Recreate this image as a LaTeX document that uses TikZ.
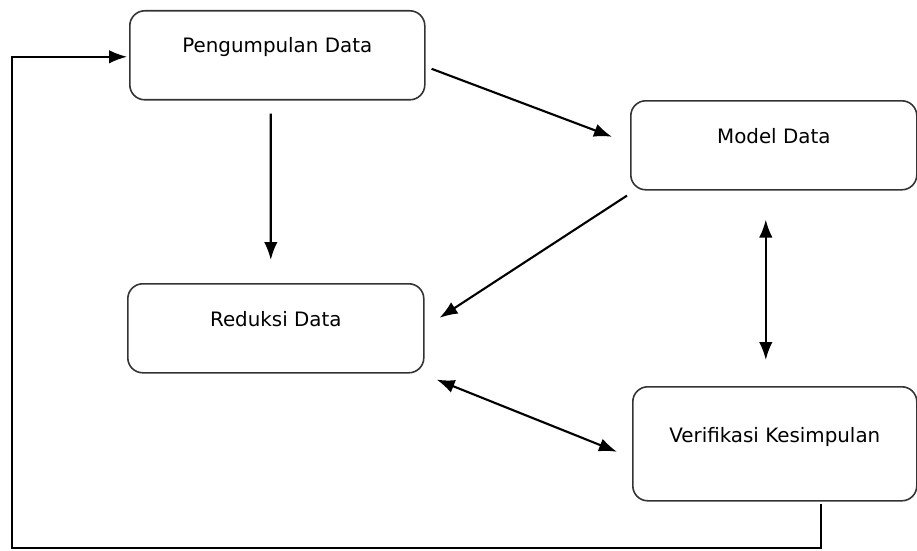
\documentclass[tikz,border=0pt]{standalone}
\usepackage{fontspec}
\setmainfont{DejaVu Sans}
\usetikzlibrary{arrows.meta}
\tikzset{
	tahap/.style={draw=black!80, line width=0.9pt, rounded corners=0.3cm, inner sep=0pt, anchor=north west, font=\fontsize{11.3}{13}\selectfont},
	arr/.style={draw=black, line width=1.2pt, -{Latex[length=0.36cm,width=0.27cm]}},
	darr/.style={draw=black, line width=1.2pt, {Latex[length=0.36cm,width=0.27cm]}-{Latex[length=0.36cm,width=0.27cm]}}
}
\begin{document}
\begin{tikzpicture}
		\useasboundingbox (0,0) rectangle (18.34,-11.00);
		\node[tahap, minimum width=5.90cm, minimum height=1.78cm, text height=0.84cm, text depth=0.94cm] (peng) at (2.58,-0.20) {Pengumpulan Data};
		\node[tahap, minimum width=5.72cm, minimum height=1.78cm, text height=0.86cm, text depth=0.92cm] (model) at (12.60,-2.00) {Model Data};
		\node[tahap, minimum width=5.92cm, minimum height=1.78cm, text height=0.86cm, text depth=0.92cm] (red) at (2.54,-5.66) {Reduksi Data};
		\node[tahap, minimum width=5.68cm, minimum height=2.28cm, text height=1.12cm, text depth=1.16cm] (verif) at (12.64,-7.72) {Verifikasi Kesimpulan};
		\coordinate (back) at (0.24,-10.96);
		\draw[arr] ([shift={(-0.13,-0.26)}]peng.south) -- ([shift={(-0.10,0.46)}]red.north);
		\draw[arr] ([shift={(0.12,-0.27)}]peng.east) -- ([shift={(-0.36,0.17)}]model.west);
		\draw[arr] ([shift={(-0.06,-0.10)}]model.south west) -- ([shift={(0.30,0.21)}]red.east);
		\draw[darr] ([shift={(-0.16,-0.58)}]model.south) -- ([shift={(-0.18,0.52)}]verif.north);
		\draw[darr] ([shift={(0.24,-0.12)}]red.south east) -- ([shift={(-0.30,-0.16)}]verif.west);
		\draw[arr, line width=1pt] ([shift={(0.92,-0.04)}]verif.south) |- (back) |- ([shift={(-0.04,-0.03)}]peng.west);
	\end{tikzpicture}
\end{document}
